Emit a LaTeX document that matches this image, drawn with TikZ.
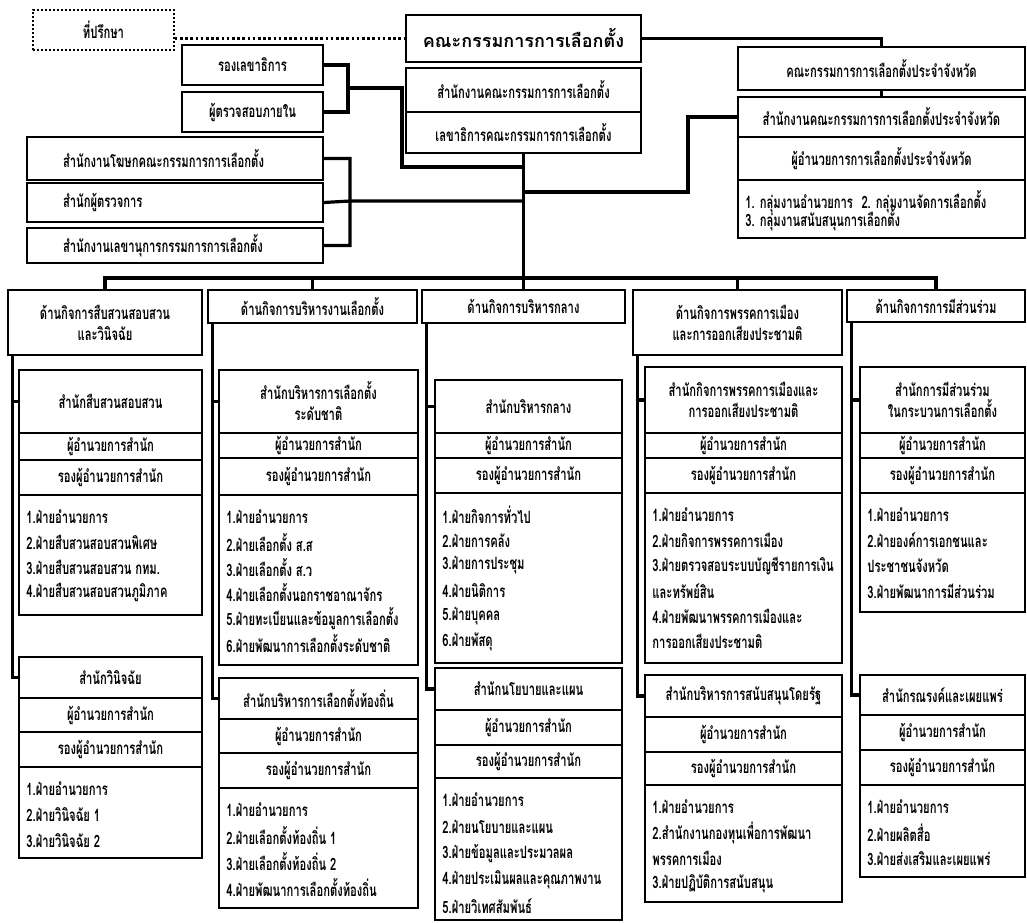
\documentclass[tikz,border=0pt]{standalone}
\usepackage{fontspec}
\newfontfamily\thaifont[Script=Thai,FakeStretch=0.66]{Loma}
\newfontfamily\thaiwide[Script=Thai]{Loma}
\usetikzlibrary{calc}

\tikzset{
  cell/.style={draw, line width=0.9pt, inner sep=0pt, align=center,
    font=\thaifont\bfseries\fontsize{8.5}{10.5}\selectfont},
  leftcell/.style={cell, text width=112pt, align=left},
  advbox/.style={cell, line width=0.7pt, dash pattern=on 1pt off 1pt},
  itemtext/.style={anchor=west, inner sep=0pt,
    font=\thaifont\bfseries\fontsize{8.5}{10}\selectfont},
  link/.style={line width=1.6pt},
  dotlink/.style={line width=1.3pt, dash pattern=on 1.3pt off 1.3pt},
}

% name, x1, y1, x2, y2, text  (pixel units)
\newcommand\orgcell[7][]{\node[cell,#1,minimum width={(#5-#3)*0.5pt},
  minimum height={(#6-#4)*0.5pt}] (#2) at ({(#3+#5)/2},{(#4+#6)/2}) {#7};}
% name, x1, y1, x2, y2, step, items
\newcommand\orglist[7]{\orgcell{#1}{#2}{#3}{#4}{#5}{}
  \foreach \t [count=\i] in {#7}
    \node[itemtext] (#1-\i) at ({#2+7},{#3+22+(\i-1)*#6}) {\t};}
% name, x1, x2, top, title, director, deputy, title text
\newcommand\orgbox[8]{%
  \orgcell{#1t}{#2}{#4}{#3}{#5}{#8}
  \orgcell{#1d}{#2}{#5}{#3}{#6}{ผู้อำนวยการสำนัก}
  \orgcell{#1r}{#2}{#6}{#3}{#7}{รองผู้อำนวยการสำนัก}}

\begin{document}
\begin{tikzpicture}[x=0.5pt,y=-0.5pt]
  \useasboundingbox (0,0) rectangle (1027,922);

  \node[advbox, minimum width=70.5pt, minimum height=20pt] (advisor) at (103.5,30) {ที่ปรึกษา};
  \orgcell[font=\thaiwide\bfseries\fontsize{9}{11}\selectfont]{ect}{406}{15}{641}{62}{คณะกรรมการการเลือกตั้ง}
  \orgcell{office}{406}{68}{641}{112}{สำนักงานคณะกรรมการการเลือกตั้ง}
  \orgcell{secgen}{406}{112}{641}{153}{เลขาธิการคณะกรรมการการเลือกตั้ง}
  \orgcell{deputy}{182}{45}{323}{85}{รองเลขาธิการ}
  \orgcell{audit}{182}{92}{323}{132}{ผู้ตรวจสอบภายใน}
  \orgcell[leftcell]{spokes}{27}{137}{323}{180}{สำนักงานโฆษกคณะกรรมการการเลือกตั้ง}
  \orgcell[leftcell]{inspect}{27}{183}{323}{222}{สำนักผู้ตรวจการ}
  \orgcell[leftcell]{secr}{27}{228}{323}{263}{สำนักงานเลขานุการกรรมการการเลือกตั้ง}

  \orgcell{provect}{738}{47}{1025}{90}{คณะกรรมการการเลือกตั้งประจำจังหวัด}
  \orgcell{provoff}{738}{97}{1025}{137}{สำนักงานคณะกรรมการการเลือกตั้งประจำจังหวัด}
  \orgcell{provdir}{738}{137}{1025}{180}{ผู้อำนวยการการเลือกตั้งประจำจังหวัด}
  \orglist{provlist}{738}{180}{1025}{238}{18}{{1. กลุ่มงานอำนวยการ\enspace 2. กลุ่มงานจัดการเลือกตั้ง}, 3. กลุ่มงานสนับสนุนการเลือกตั้ง}

  \orgcell{h1}{8}{290}{202}{355}{ด้านกิจการสืบสวนสอบสวน\\และวินิจฉัย}
  \orgcell{h2}{208}{290}{417}{323}{ด้านกิจการบริหารงานเลือกตั้ง}
  \orgcell{h3}{422}{290}{625}{323}{ด้านกิจการบริหารกลาง}
  \orgcell{h4}{633}{290}{842}{355}{ด้านกิจการพรรคการเมือง\\และการออกเสียงประชามติ}
  \orgcell{h5}{847}{290}{1025}{322}{ด้านกิจการการมีส่วนร่วม}

  \orgbox{a}{19}{202}{370}{433}{460}{495}{สำนักสืบสวนสอบสวน}
  \orglist{al}{19}{495}{202}{615}{25.3}{1.ฝ่ายอำนวยการ, 2.ฝ่ายสืบสวนสอบสวนพิเศษ, 3.ฝ่ายสืบสวนสอบสวน กทม., 4.ฝ่ายสืบสวนสอบสวนภูมิภาค}
  \orgbox{b}{19}{202}{657}{698}{732}{767}{สำนักวินิจฉัย}
  \orglist{bl}{19}{767}{202}{858}{26}{1.ฝ่ายอำนวยการ, 2.ฝ่ายวินิจฉัย 1, 3.ฝ่ายวินิจฉัย 2}

  \orgbox{c}{219}{418}{370}{433}{458}{495}{สำนักบริหารการเลือกตั้ง\\ระดับชาติ}
  \orglist{cl}{219}{495}{418}{665}{25.3}{1.ฝ่ายอำนวยการ, 2.ฝ่ายเลือกตั้ง ส.ส, 3.ฝ่ายเลือกตั้ง ส.ว, 4.ฝ่ายเลือกตั้งนอกราชอาณาจักร, 5.ฝ่ายทะเบียนและข้อมูลการเลือกตั้ง, 6.ฝ่ายพัฒนาการเลือกตั้งระดับชาติ}
  \orgbox{d}{219}{418}{678}{719}{753}{788}{สำนักบริหารการเลือกตั้งท้องถิ่น}
  \orglist{dl}{219}{788}{418}{908}{26}{1.ฝ่ายอำนวยการ, 2.ฝ่ายเลือกตั้งท้องถิ่น 1, 3.ฝ่ายเลือกตั้งท้องถิ่น 2, 4.ฝ่ายพัฒนาการเลือกตั้งท้องถิ่น}

  \orgbox{e}{435}{622}{380}{433}{458}{493}{สำนักบริหารกลาง}
  \orglist{el}{435}{493}{622}{663}{25.3}{1.ฝ่ายกิจการทั่วไป, 2.ฝ่ายการคลัง, 3.ฝ่ายการประชุม, 4.ฝ่ายนิติการ, 5.ฝ่ายบุคคล, 6.ฝ่ายพัสดุ}
  \orgbox{f}{435}{622}{668}{710}{745}{778}{สำนักนโยบายและแผน}
  \orglist{fl}{435}{778}{622}{920}{26.5}{1.ฝ่ายอำนวยการ, 2.ฝ่ายนโยบายและแผน, 3.ฝ่ายข้อมูลและประมวลผล, 4.ฝ่ายประเมินผลและคุณภาพงาน, 5.ฝ่ายวิเทศสัมพันธ์}

  \orgbox{g}{645}{842}{367}{433}{458}{493}{สำนักกิจการพรรคการเมืองและ\\การออกเสียงประชามติ}
  \orglist{gl}{645}{493}{842}{663}{25.3}{1.ฝ่ายอำนวยการ, 2.ฝ่ายกิจการพรรคการเมือง, 3.ฝ่ายตรวจสอบระบบบัญชีรายการเงิน, และทรัพย์สิน, 4.ฝ่ายพัฒนาพรรคการเมืองและ, การออกเสียงประชามติ}
  \orgbox{k}{645}{842}{675}{717}{752}{785}{สำนักบริหารการสนับสนุนโดยรัฐ}
  \orglist{kl}{645}{785}{842}{902}{25.5}{1.ฝ่ายอำนวยการ, 2.สำนักงานกองทุนเพื่อการพัฒนา, พรรคการเมือง, 3.ฝ่ายปฏิบัติการสนับสนุน}

  \orgbox{m}{860}{1025}{367}{433}{458}{493}{สำนักการมีส่วนร่วม\\ในกระบวนการเลือกตั้ง}
  \orglist{ml}{860}{493}{1025}{612}{25.3}{1.ฝ่ายอำนวยการ, 2.ฝ่ายองค์การเอกชนและ, ประชาชนจังหวัด, 3.ฝ่ายพัฒนาการมีส่วนร่วม}
  \orgbox{n}{860}{1025}{675}{715}{750}{785}{สำนักรณรงค์และเผยแพร่}
  \orglist{nl}{860}{785}{1025}{877}{26}{1.ฝ่ายอำนวยการ, 2.ฝ่ายผลิตสื่อ, 3.ฝ่ายส่งเสริมและเผยแพร่}

  \coordinate (dj) at (348,88);
  \coordinate (dk) at (402,167);
  \coordinate (sj) at (350,201);
  \coordinate (pj) at (688,192);
  \coordinate (bus) at (0,278);

  \draw[dotlink] (advisor.east |- ect.west) -- (ect.west);
  \draw[link] (deputy.east) -| (dj) |- (audit.east);
  \draw[link] (dj) -| (dk) -- (dk -| secgen.south);
  \draw[link] (spokes.east) -| (sj) |- (secr.east)
    (inspect.east) -- (sj) -- (sj -| secgen.south);
  \draw[link] (pj -| secgen.south) -- (pj) |- (provoff.west);
  \draw[link] (ect.east) -| (provect.north);
  \draw[link] (provect.south) -- (provoff.north);
  \draw[link] (secgen.south) -- (h3.north);
  \draw[link] (h1.north) |- (h5.north |- bus) -- (h5.north);
  \foreach \h in {h2,h4}
    \draw[link] (\h.north) -- (\h.north |- bus);
  \foreach \c/\p/\q in {h1/a/b, h2/c/d, h3/e/f, h4/g/k, h5/m/n}
    \draw[link] ([xshift=2.5pt]\c.south west) coordinate (sp) |- (\q t.west)
      (sp |- \p t.west) -- (\p t.west);
\end{tikzpicture}
\end{document}
